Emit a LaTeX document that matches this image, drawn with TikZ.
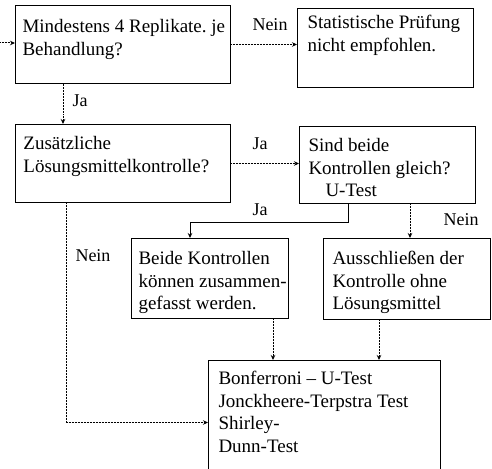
\documentclass[tikz,border=0pt]{standalone}
\usepackage{fontspec}
\setmainfont{Liberation Serif}
\usetikzlibrary{arrows.meta,calc}
\frenchspacing

% top-aligned cell body: width, height, left pad, top pad, lines
\newcommand{\cellbody}[5]{\parbox[c][#2pt][t]{#1pt}{\raggedright\leftskip=#3pt\relax\vspace*{#4pt}#5}}

\tikzset{
  flowbox/.style={draw, line width=1pt, anchor=north west, inner sep=0pt,
    font=\fontsize{19}{22.5}\selectfont},
  branch/.style={font=\fontsize{18}{20}\selectfont, inner sep=0pt},
  flow/.style={line width=1pt, dash pattern=on 1pt off 0.5pt,
    -{Stealth[length=5pt,width=4.5pt]}},
  joinline/.style={line width=1pt, -{Stealth[length=5pt,width=4.5pt]}}
}

\begin{document}
\begin{tikzpicture}[x=1pt,y=-1pt]
\useasboundingbox (0,0) rectangle (492,468);

% decision and result boxes
\node[flowbox] (b1) at (15,5)
  {\cellbody{215}{78}{7}{14}{Mindestens 4 Replikate. je\\Behandlung?}};
\node[flowbox] (b2) at (297,8)
  {\cellbody{176}{79}{10}{7}{Statistische Prüfung\\nicht empfohlen.}};
\node[flowbox] (b3) at (15,124)
  {\cellbody{215}{78}{8}{12}{Zusätzliche\\Lösungsmittelkontrolle?}};
\node[flowbox] (b4) at (299,126)
  {\cellbody{176}{77}{9}{12}{Sind beide\\Kontrollen gleich?\\\hspace*{17pt}U-Test}};
\node[flowbox] (b5) at (131,238)
  {\cellbody{157}{80}{7}{13}{Beide Kontrollen\\können zusammen-\\gefasst werden.}};
\node[flowbox] (b6) at (323,238)
  {\cellbody{167}{81}{9}{13}{Ausschließen der\\Kontrolle ohne\\Lösungsmittel}};
\node[flowbox] (b7) at (208,360)
  {\cellbody{232}{116}{10}{11}{Bonferroni – U-Test\\Jonckheere-Terpstra Test\\Shirley-\\Dunn-Test}};

% entry point
\coordinate (start) at (0,43);

% connectors
\draw[flow] (start) -- (start -| b1.west);
\draw[flow] (b1.east) -- (b1.east -| b2.west);
\draw[flow] ([xshift=48pt]b1.south west) -- ([xshift=48pt]b1.south west |- b3.north);
\draw[flow] (b3.east) -- (b3.east -| b4.west);
\draw[joinline] ([xshift=49pt]b4.south west) -- ++(0,18)
  -| ([xshift=59pt]b5.north west);
\draw[flow] ([xshift=111pt]b4.south west) -- ([xshift=111pt]b4.south west |- b6.north);
\draw[flow] ([xshift=51pt]b3.south west) |- ([yshift=-4pt]b7.west);
\draw[flow] ([xshift=142pt]b5.south west) -- ([xshift=142pt]b5.south west |- b7.north);
\draw[flow] ([xshift=56pt]b6.south west) -- ([xshift=56pt]b6.south west |- b7.north);

% branch labels
\node[branch] (l1) at (270,25) {Nein};
\node[branch] (l2) at (80,101) {Ja};
\node[branch] (l3) at (260,144) {Ja};
\node[branch] (l4) at (260,210) {Ja};
\node[branch] (l5) at (461,220) {Nein};
\node[branch] (l6) at (93,256) {Nein};
\end{tikzpicture}
\end{document}
